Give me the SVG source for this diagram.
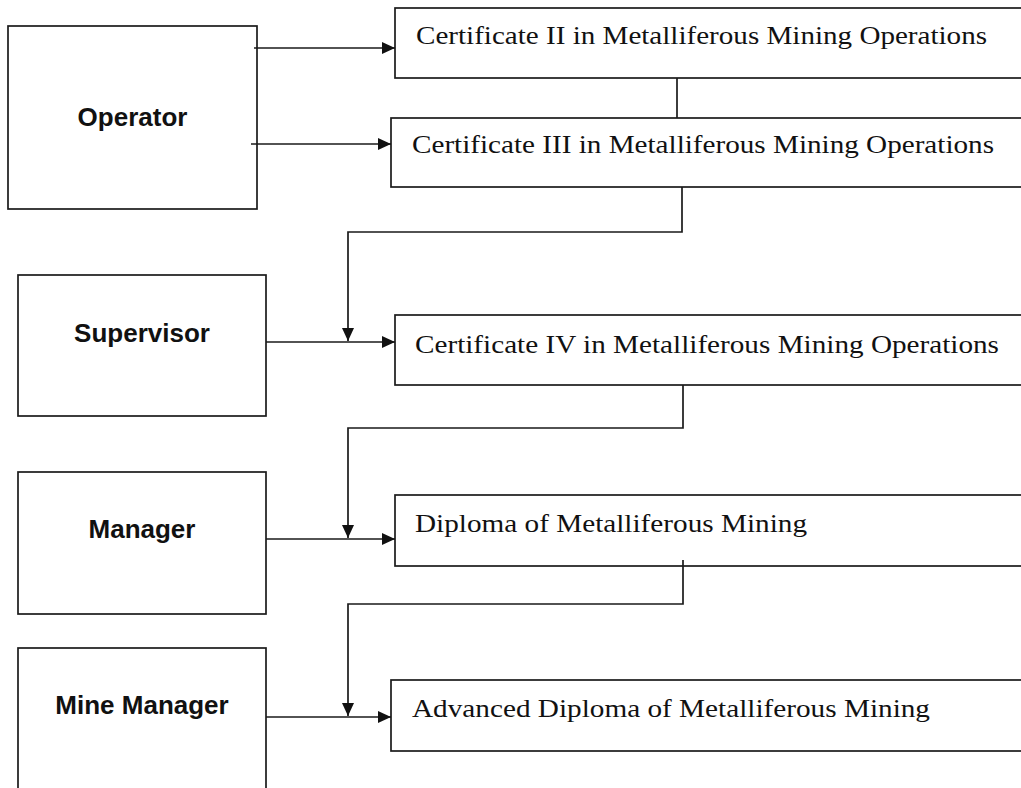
<svg xmlns="http://www.w3.org/2000/svg" width="1021" height="788" viewBox="0 0 1021 788">
<style>
.box{fill:#fff;stroke:#1a1a1a;stroke-width:1.7}
.role{font-family:"Liberation Sans",Arial,sans-serif;font-weight:bold;font-size:26px;fill:#111;text-anchor:middle}
.qual{font-family:"Liberation Serif","Times New Roman",serif;font-size:25.5px;fill:#111}
.conn{fill:none;stroke:#1a1a1a;stroke-width:1.7}
</style>
<defs>
<marker id="ah" markerUnits="userSpaceOnUse" markerWidth="14" markerHeight="13" refX="13" refY="6" orient="auto">
<path d="M0,0 L13,6 L0,12 z" fill="#111"/>
</marker>
</defs>
<rect width="1021" height="788" fill="#fff"/>
<g id="operator"><rect class="box" x="8" y="26" width="249" height="183"/><text class="role" x="132.5" y="126">Operator</text></g>
<g id="supervisor"><rect class="box" x="18" y="275" width="248" height="141"/><text class="role" x="142" y="342">Supervisor</text></g>
<g id="manager"><rect class="box" x="18" y="472" width="248" height="142"/><text class="role" x="142" y="538">Manager</text></g>
<g id="mine-manager"><rect class="box" x="18" y="648" width="248" height="160"/><text class="role" x="142" y="714">Mine Manager</text></g>
<g id="cert2"><rect class="box" x="395" y="8" width="640" height="70"/><text class="qual" x="416" y="44" textLength="571" lengthAdjust="spacingAndGlyphs">Certificate II in Metalliferous Mining Operations</text></g>
<g id="cert3"><rect class="box" x="391" y="118" width="640" height="69"/><text class="qual" x="412" y="153" textLength="582" lengthAdjust="spacingAndGlyphs">Certificate III in Metalliferous Mining Operations</text></g>
<g id="cert4"><rect class="box" x="395" y="315" width="640" height="70"/><text class="qual" x="415" y="353" textLength="584" lengthAdjust="spacingAndGlyphs">Certificate IV in Metalliferous Mining Operations</text></g>
<g id="diploma"><rect class="box" x="395" y="495" width="640" height="71"/><text class="qual" x="415" y="532" textLength="392" lengthAdjust="spacingAndGlyphs">Diploma of Metalliferous Mining</text></g>
<g id="adv-diploma"><rect class="box" x="391" y="680" width="640" height="71"/><text class="qual" x="412" y="717" textLength="518" lengthAdjust="spacingAndGlyphs">Advanced Diploma of Metalliferous Mining</text></g>
<g id="connectors">
<path class="conn" d="M254,48 H395" marker-end="url(#ah)"/>
<path class="conn" d="M251,144 H391" marker-end="url(#ah)"/>
<path class="conn" d="M677,78 V118"/>
<path class="conn" d="M682,187 V232 H348 V341" marker-end="url(#ah)"/>
<path class="conn" d="M266,342 H395" marker-end="url(#ah)"/>
<path class="conn" d="M683,385 V428 H348 V538" marker-end="url(#ah)"/>
<path class="conn" d="M266,539 H395" marker-end="url(#ah)"/>
<path class="conn" d="M683,560 V604 H348 V716" marker-end="url(#ah)"/>
<path class="conn" d="M266,717 H391" marker-end="url(#ah)"/>
</g>
</svg>
